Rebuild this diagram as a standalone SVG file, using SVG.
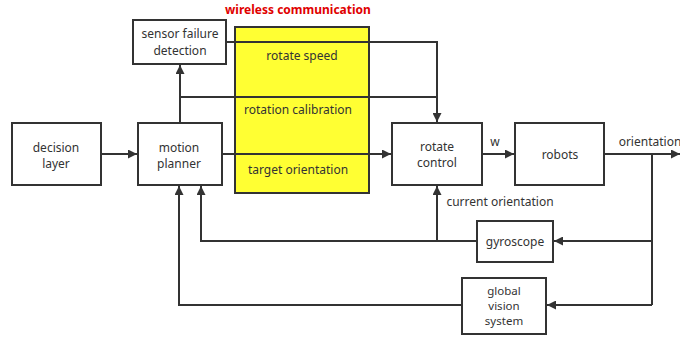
<svg xmlns="http://www.w3.org/2000/svg" width="680" height="339" viewBox="0 0 680 339">
<defs>
<marker id="ah" viewBox="0 0 10 10" refX="10" refY="5" markerWidth="9" markerHeight="9" markerUnits="userSpaceOnUse" orient="auto">
<path d="M0,0 L10,5 L0,10 z" fill="#333"/>
</marker>
<style>
.box{fill:#fff;stroke:#333;stroke-width:2}
.t{font-family:"Noto Sans","Open Sans",sans-serif;font-size:12px;fill:#333;text-anchor:middle}
.ln{fill:none;stroke:#333;stroke-width:2}
.ar{fill:none;stroke:#333;stroke-width:2;marker-end:url(#ah)}
</style>
</defs>
<rect width="680" height="339" fill="#fff"/>
<g id="wireless">
<rect x="235" y="27" width="134" height="166" fill="#ffff33" stroke="#333" stroke-width="2"/>
<text x="298" y="14" style="font-family:'Noto Sans','Open Sans',sans-serif;font-size:12px;font-weight:bold;fill:#e00000" text-anchor="middle">wireless communication</text>
</g>
<g id="connectors">
<path class="ar" d="M101,154 H137"/>
<path class="ar" d="M180,123 V65"/>
<path class="ln" d="M180,97 H437"/>
<path class="ar" d="M226,42 H437 V122"/>
<path class="ar" d="M222,154 H391"/>
<path class="ar" d="M482,154 H514"/>
<path class="ar" d="M604,154 H680"/>
<path class="ln" d="M652,154 V305"/>
<path class="ar" d="M652,241 H554"/>
<path class="ar" d="M652,305 H547"/>
<path class="ar" d="M477,241 H201 V186"/>
<path class="ar" d="M437,241 V186"/>
<path class="ar" d="M462,305 H179 V186"/>
</g>
<g id="labels">
<text class="t" x="302" y="60">rotate speed</text>
<text class="t" x="298" y="114">rotation calibration</text>
<text class="t" x="298" y="174">target orientation</text>
<text class="t" x="495" y="146">w</text>
<text class="t" x="650" y="146">orientation</text>
<text class="t" x="500" y="206">current orientation</text>
</g>
<g id="sensor">
<rect class="box" x="133" y="20" width="93" height="44"/>
<text class="t" x="180" y="38">sensor failure</text>
<text class="t" x="180" y="55">detection</text>
</g>
<g id="decision">
<rect class="box" x="12" y="123" width="89" height="62"/>
<text class="t" x="56" y="152">decision</text>
<text class="t" x="56" y="168">layer</text>
</g>
<g id="motion">
<rect class="box" x="138" y="123" width="84" height="62"/>
<text class="t" x="179" y="152">motion</text>
<text class="t" x="179" y="168">planner</text>
</g>
<g id="rotate">
<rect class="box" x="392" y="123" width="90" height="62"/>
<text class="t" x="437" y="151">rotate</text>
<text class="t" x="437" y="167">control</text>
</g>
<g id="robots">
<rect class="box" x="515" y="123" width="89" height="62"/>
<text class="t" x="560" y="159">robots</text>
</g>
<g id="gyroscope">
<rect class="box" x="477" y="221" width="76" height="41"/>
<text class="t" x="515" y="246">gyroscope</text>
</g>
<g id="global">
<rect class="box" x="462" y="278" width="84" height="56"/>
<text class="t" x="504" y="295" style="font-size:11.5px">global</text>
<text class="t" x="504" y="310" style="font-size:11.5px">vision</text>
<text class="t" x="504" y="325" style="font-size:11.5px">system</text>
</g>
</svg>
